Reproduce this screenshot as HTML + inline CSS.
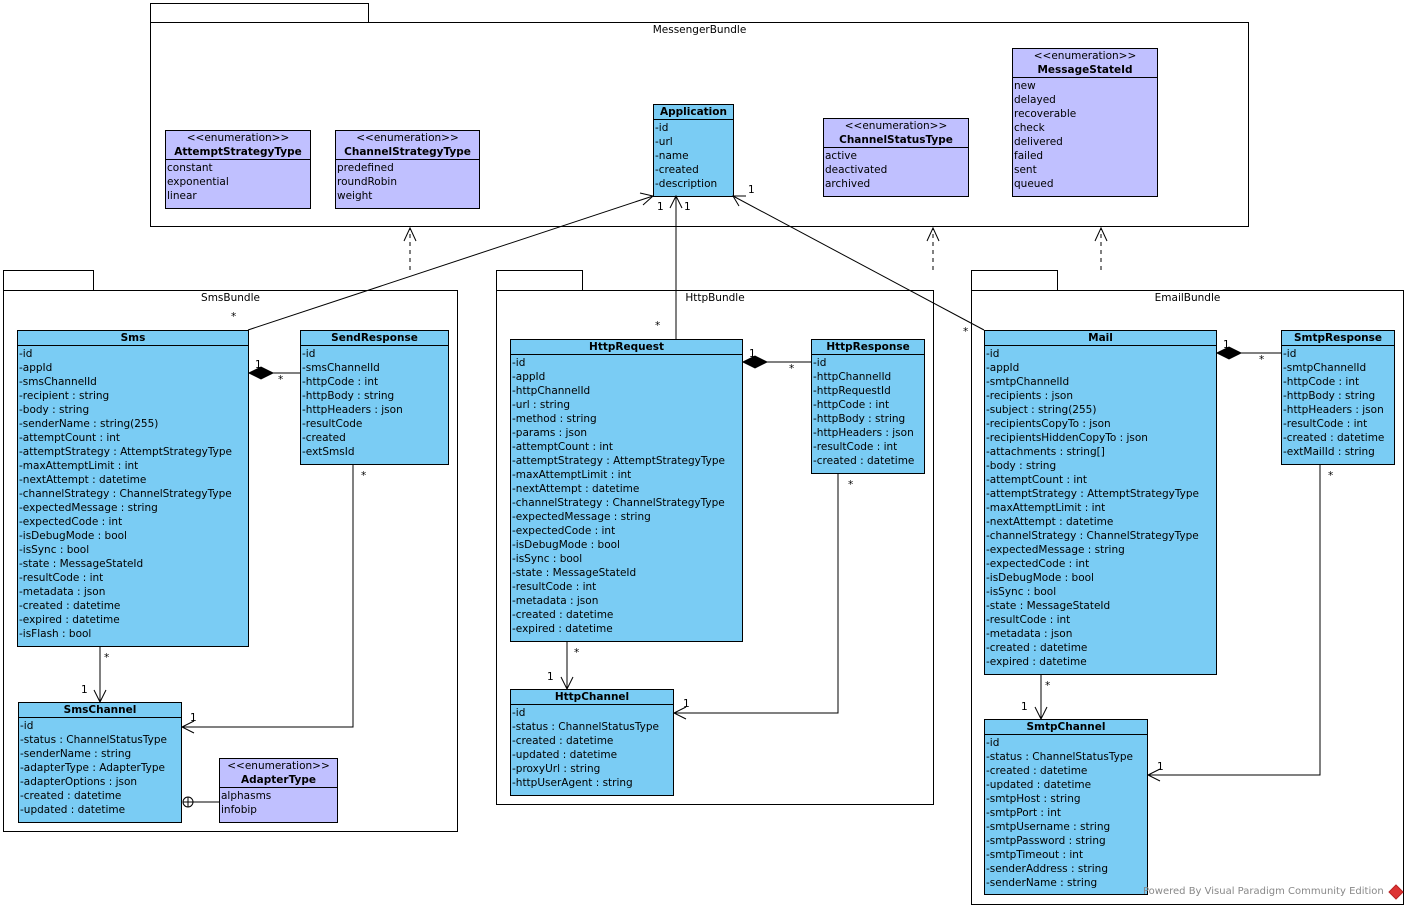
<!DOCTYPE html>
<html><head><meta charset="utf-8"><style>
body{margin:0;width:1408px;height:909px;background:#fff;position:relative;overflow:hidden;font-family:"DejaVu Sans","Liberation Sans",sans-serif;font-size:11px;color:#000}
.p{position:absolute;border:1px solid #000;background:#fff;box-sizing:border-box}
.pl{position:absolute;text-align:center;font-size:10.5px;margin-top:2px}
.c{position:absolute;border:1px solid #000;background:#7accf4;box-sizing:border-box;line-height:14px;white-space:nowrap;overflow:hidden}
.e{background:#c0c0ff}
.h{text-align:center;font-weight:bold;border-bottom:1px solid #000;font-size:10.5px}
.h span{font-weight:normal;display:block}
.a{padding:1px 0 0 1px;font-size:10.5px}
.l{position:absolute;font-size:10.5px}
</style></head><body>
<div class="p" style="left:150px;top:3px;width:219px;height:20px"></div>
<div class="p" style="left:150px;top:22px;width:1099px;height:205px"></div>
<div class="pl" style="left:150px;top:22px;width:1099px">MessengerBundle</div>
<div class="p" style="left:3px;top:270px;width:91px;height:21px"></div>
<div class="p" style="left:3px;top:290px;width:455px;height:542px"></div>
<div class="pl" style="left:3px;top:290px;width:455px">SmsBundle</div>
<div class="p" style="left:496px;top:270px;width:87px;height:21px"></div>
<div class="p" style="left:496px;top:290px;width:438px;height:515px"></div>
<div class="pl" style="left:496px;top:290px;width:438px">HttpBundle</div>
<div class="p" style="left:971px;top:270px;width:87px;height:21px"></div>
<div class="p" style="left:971px;top:290px;width:433px;height:615px"></div>
<div class="pl" style="left:971px;top:290px;width:433px">EmailBundle</div>

<div class="c" style="left:653px;top:104px;width:81px;height:93px"><div class="h">Application</div><div class="a">-id<br>-url<br>-name<br>-created<br>-description</div></div>
<div class="c e" style="left:165px;top:130px;width:146px;height:79px"><div class="h"><span>&lt;&lt;enumeration&gt;&gt;</span>AttemptStrategyType</div><div class="a">constant<br>exponential<br>linear</div></div>
<div class="c e" style="left:335px;top:130px;width:145px;height:79px"><div class="h"><span>&lt;&lt;enumeration&gt;&gt;</span>ChannelStrategyType</div><div class="a">predefined<br>roundRobin<br>weight</div></div>
<div class="c e" style="left:823px;top:118px;width:146px;height:79px"><div class="h"><span>&lt;&lt;enumeration&gt;&gt;</span>ChannelStatusType</div><div class="a">active<br>deactivated<br>archived</div></div>
<div class="c e" style="left:1012px;top:48px;width:146px;height:149px"><div class="h"><span>&lt;&lt;enumeration&gt;&gt;</span>MessageStateId</div><div class="a">new<br>delayed<br>recoverable<br>check<br>delivered<br>failed<br>sent<br>queued</div></div>

<div class="c" style="left:17px;top:330px;width:232px;height:317px"><div class="h">Sms</div><div class="a">-id<br>-appId<br>-smsChannelId<br>-recipient : string<br>-body : string<br>-senderName : string(255)<br>-attemptCount : int<br>-attemptStrategy : AttemptStrategyType<br>-maxAttemptLimit : int<br>-nextAttempt : datetime<br>-channelStrategy : ChannelStrategyType<br>-expectedMessage : string<br>-expectedCode : int<br>-isDebugMode : bool<br>-isSync : bool<br>-state : MessageStateId<br>-resultCode : int<br>-metadata : json<br>-created : datetime<br>-expired : datetime<br>-isFlash : bool</div></div>
<div class="c" style="left:300px;top:330px;width:149px;height:135px"><div class="h">SendResponse</div><div class="a">-id<br>-smsChannelId<br>-httpCode : int<br>-httpBody : string<br>-httpHeaders : json<br>-resultCode<br>-created<br>-extSmsId</div></div>
<div class="c" style="left:18px;top:702px;width:164px;height:121px"><div class="h">SmsChannel</div><div class="a">-id<br>-status : ChannelStatusType<br>-senderName : string<br>-adapterType : AdapterType<br>-adapterOptions : json<br>-created : datetime<br>-updated : datetime</div></div>
<div class="c e" style="left:219px;top:758px;width:119px;height:65px"><div class="h"><span>&lt;&lt;enumeration&gt;&gt;</span>AdapterType</div><div class="a">alphasms<br>infobip</div></div>

<div class="c" style="left:510px;top:339px;width:233px;height:303px"><div class="h">HttpRequest</div><div class="a">-id<br>-appId<br>-httpChannelId<br>-url : string<br>-method : string<br>-params : json<br>-attemptCount : int<br>-attemptStrategy : AttemptStrategyType<br>-maxAttemptLimit : int<br>-nextAttempt : datetime<br>-channelStrategy : ChannelStrategyType<br>-expectedMessage : string<br>-expectedCode : int<br>-isDebugMode : bool<br>-isSync : bool<br>-state : MessageStateId<br>-resultCode : int<br>-metadata : json<br>-created : datetime<br>-expired : datetime</div></div>
<div class="c" style="left:811px;top:339px;width:114px;height:135px"><div class="h">HttpResponse</div><div class="a">-id<br>-httpChannelId<br>-httpRequestId<br>-httpCode : int<br>-httpBody : string<br>-httpHeaders : json<br>-resultCode : int<br>-created : datetime</div></div>
<div class="c" style="left:510px;top:689px;width:164px;height:107px"><div class="h">HttpChannel</div><div class="a">-id<br>-status : ChannelStatusType<br>-created : datetime<br>-updated : datetime<br>-proxyUrl : string<br>-httpUserAgent : string</div></div>

<div class="c" style="left:984px;top:330px;width:233px;height:345px"><div class="h">Mail</div><div class="a">-id<br>-appId<br>-smtpChannelId<br>-recipients : json<br>-subject : string(255)<br>-recipientsCopyTo : json<br>-recipientsHiddenCopyTo : json<br>-attachments : string[]<br>-body : string<br>-attemptCount : int<br>-attemptStrategy : AttemptStrategyType<br>-maxAttemptLimit : int<br>-nextAttempt : datetime<br>-channelStrategy : ChannelStrategyType<br>-expectedMessage : string<br>-expectedCode : int<br>-isDebugMode : bool<br>-isSync : bool<br>-state : MessageStateId<br>-resultCode : int<br>-metadata : json<br>-created : datetime<br>-expired : datetime</div></div>
<div class="c" style="left:1281px;top:330px;width:114px;height:135px"><div class="h">SmtpResponse</div><div class="a">-id<br>-smtpChannelId<br>-httpCode : int<br>-httpBody : string<br>-httpHeaders : json<br>-resultCode : int<br>-created : datetime<br>-extMailId : string</div></div>
<div class="c" style="left:984px;top:719px;width:164px;height:176px"><div class="h">SmtpChannel</div><div class="a">-id<br>-status : ChannelStatusType<br>-created : datetime<br>-updated : datetime<br>-smtpHost : string<br>-smtpPort : int<br>-smtpUsername : string<br>-smtpPassword : string<br>-smtpTimeout : int<br>-senderAddress : string<br>-senderName : string</div></div>

<svg width="1408" height="909" style="position:absolute;left:0;top:0" fill="none" stroke="#000" stroke-width="1">
<line x1="248" y1="330" x2="653" y2="196"/>
<polyline points="640,193 653,196 643,205"/>
<line x1="676" y1="339" x2="676" y2="196"/>
<polyline points="670,208 676,196 682,208"/>
<line x1="984" y1="330" x2="733" y2="196"/>
<polyline points="739,206 733,196 746,196"/>
<g stroke-dasharray="4,4"><line x1="410" y1="270" x2="410" y2="228"/><line x1="933" y1="270" x2="933" y2="228"/><line x1="1101" y1="270" x2="1101" y2="228"/></g>
<polyline points="404,241 410,228 416,241"/><polyline points="927,241 933,228 939,241"/><polyline points="1095,241 1101,228 1107,241"/>
<line x1="272" y1="373" x2="300" y2="373"/><polygon points="249,373 261,367 273,373 261,379" fill="#000"/>
<line x1="767" y1="362" x2="811" y2="362"/><polygon points="743,362 755,356 767,362 755,368" fill="#000"/>
<line x1="1241" y1="353" x2="1281" y2="353"/><polygon points="1217,353 1229,347 1241,353 1229,359" fill="#000"/>
<line x1="100" y1="646" x2="100" y2="702"/><polyline points="94,690 100,702 106,690"/>
<polyline points="353,464 353,727 182,727"/><polyline points="194,721 182,727 194,733"/>
<line x1="567" y1="641" x2="567" y2="689"/><polyline points="561,677 567,689 573,677"/>
<polyline points="838,473 838,713 674,713"/><polyline points="686,707 674,713 686,719"/>
<line x1="1041" y1="674" x2="1041" y2="719"/><polyline points="1035,707 1041,719 1047,707"/>
<polyline points="1320,464 1320,775 1148,775"/><polyline points="1160,769 1148,775 1160,781"/>
<line x1="193" y1="802" x2="219" y2="802"/><circle cx="188" cy="802" r="5"/><line x1="183" y1="802" x2="193" y2="802"/><line x1="188" y1="797" x2="188" y2="807"/>
<polygon points="1396,885 1403,892 1396,899 1389,892" fill="#d33" stroke="#b22"/>
</svg>
<div class="l" style="left:231px;top:311px">*</div><div class="l" style="left:657px;top:201px">1</div>
<div class="l" style="left:655px;top:320px">*</div><div class="l" style="left:684px;top:201px">1</div>
<div class="l" style="left:963px;top:326px">*</div><div class="l" style="left:748px;top:184px">1</div>
<div class="l" style="left:255px;top:359px">1</div><div class="l" style="left:278px;top:374px">*</div>
<div class="l" style="left:749px;top:348px">1</div><div class="l" style="left:789px;top:363px">*</div>
<div class="l" style="left:1223px;top:339px">1</div><div class="l" style="left:1259px;top:354px">*</div>
<div class="l" style="left:104px;top:652px">*</div><div class="l" style="left:81px;top:684px">1</div>
<div class="l" style="left:361px;top:470px">*</div><div class="l" style="left:190px;top:712px">1</div>
<div class="l" style="left:574px;top:647px">*</div><div class="l" style="left:547px;top:671px">1</div>
<div class="l" style="left:848px;top:479px">*</div><div class="l" style="left:683px;top:698px">1</div>
<div class="l" style="left:1045px;top:680px">*</div><div class="l" style="left:1021px;top:701px">1</div>
<div class="l" style="left:1328px;top:470px">*</div><div class="l" style="left:1157px;top:761px">1</div>
<div class="l" style="left:1143px;top:886px;color:#888;font-size:10px">Powered By Visual Paradigm Community Edition</div>
</body></html>
